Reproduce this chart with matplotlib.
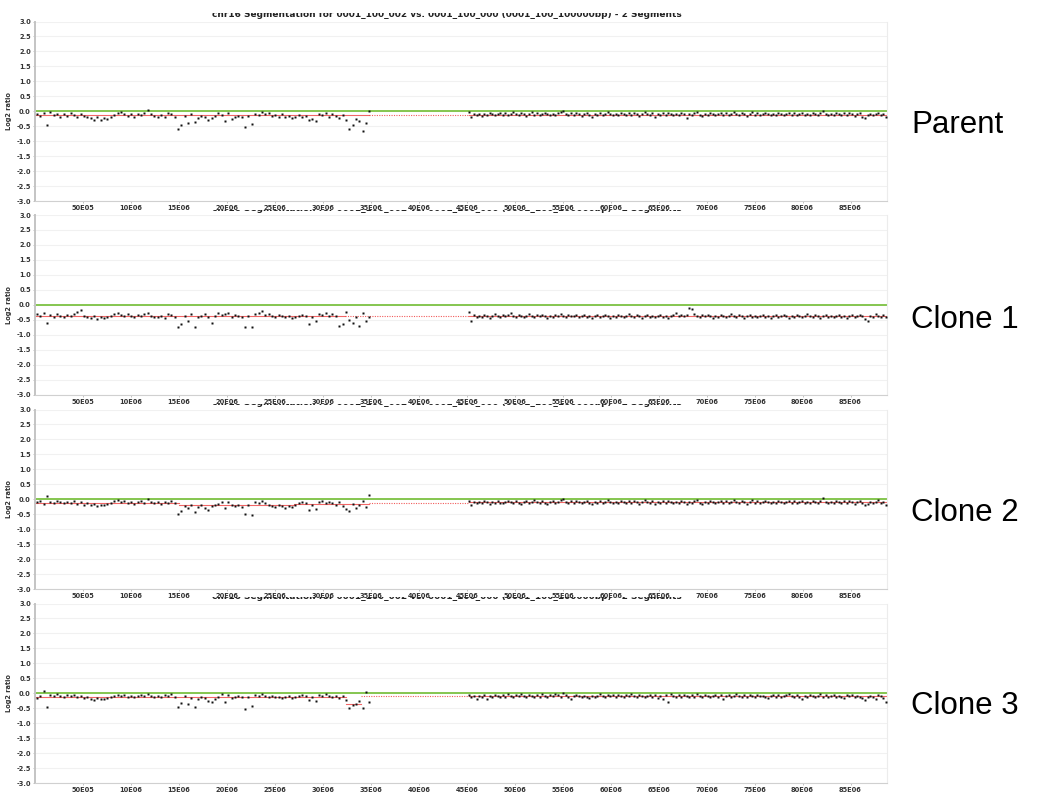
import numpy as np
import matplotlib
matplotlib.use("Agg")
import matplotlib.pyplot as plt
from matplotlib.transforms import Bbox, TransformedBbox

plt.rcParams['axes.unicode_minus'] = False

# ---------------- data ----------------
panel_names = ["Parent", "Clone 1", "Clone 2", "Clone 3"]
title_text = "chr16 Segmentation for 0001_100_002 vs. 0001_100_000 (0001_100_100000bp) - 2 Segments"

x_ticks = [5e6, 10e6, 15e6, 20e6, 25e6, 30e6, 35e6, 40e6, 45e6, 50e6, 55e6, 60e6,
           65e6, 70e6, 75e6, 80e6, 85e6]
x_tick_labels = ["50E05", "10E06", "15E06", "20E06", "25E06", "30E06", "35E06", "40E06",
                 "45E06", "50E06", "55E06", "60E06", "65E06", "70E06", "75E06", "80E06", "85E06"]
y_ticks = [3.0, 2.5, 2.0, 1.5, 1.0, 0.5, 0.0, -0.5, -1.0, -1.5, -2.0, -2.5, -3.0]

left_arm_range = (0.2e6, 34.85e6)    # probe span of p-arm
right_arm_range = (45.2e6, 88.7e6)   # probe span of q-arm
x_max = 88.8e6

parent_left = [
-0.10,-0.15,-0.05,-0.47,-0.02,-0.12,-0.08,-0.18,-0.10,-0.15,
-0.05,-0.12,-0.18,-0.08,-0.15,-0.20,-0.22,-0.30,-0.18,-0.28,
-0.22,-0.25,-0.18,-0.12,-0.05,-0.02,-0.08,-0.15,-0.10,-0.18,
-0.08,-0.12,-0.05,0.05,-0.10,-0.15,-0.18,-0.12,-0.20,-0.05,
-0.10,-0.18,-0.60,-0.45,-0.15,-0.38,-0.10,-0.35,-0.22,-0.15,
-0.18,-0.28,-0.22,-0.15,-0.05,-0.12,-0.33,-0.05,-0.25,-0.18,
-0.15,-0.20,-0.52,-0.15,-0.42,-0.08,-0.12,-0.03,-0.10,-0.05,
-0.15,-0.12,-0.18,-0.10,-0.20,-0.15,-0.22,-0.18,-0.12,-0.20,
-0.15,-0.30,-0.25,-0.32,-0.08,-0.12,-0.05,-0.18,-0.10,-0.15,
-0.22,-0.12,-0.30,-0.58,-0.45,-0.25,-0.32,-0.65,-0.38,0.02,
]
parent_right = [
-0.02,-0.20,-0.08,-0.12,-0.10,-0.15,-0.08,-0.12,-0.06,-0.10,
-0.14,-0.09,-0.05,-0.11,-0.07,-0.13,-0.10,-0.04,-0.09,-0.12,
-0.06,-0.10,-0.15,-0.08,-0.03,-0.11,-0.07,-0.13,-0.09,-0.05,
-0.10,-0.14,-0.08,-0.12,-0.06,-0.02,0.02,-0.09,-0.13,-0.07,
-0.11,-0.05,-0.09,-0.15,-0.10,-0.06,-0.12,-0.18,-0.08,-0.11,
-0.07,-0.13,-0.09,-0.04,-0.10,-0.14,-0.08,-0.12,-0.06,-0.10,
-0.13,-0.07,-0.11,-0.05,-0.09,-0.15,-0.10,-0.03,-0.08,-0.12,
-0.06,-0.20,-0.09,-0.13,-0.07,-0.11,-0.05,-0.10,-0.14,-0.08,
-0.12,-0.06,-0.10,-0.21,-0.09,-0.13,-0.07,-0.04,-0.11,-0.15,
-0.08,-0.12,-0.06,-0.10,-0.14,-0.09,-0.05,-0.11,-0.07,-0.13,
-0.10,-0.04,-0.09,-0.12,-0.06,-0.10,-0.15,-0.08,-0.03,-0.11,
-0.07,-0.13,-0.09,-0.05,-0.10,-0.14,-0.08,-0.12,-0.06,-0.10,
-0.14,-0.09,-0.05,-0.11,-0.07,-0.13,-0.10,-0.06,-0.12,-0.08,
-0.11,-0.05,-0.09,-0.13,-0.07,0.02,-0.10,-0.14,-0.08,-0.12,
-0.06,-0.10,-0.13,-0.07,-0.11,-0.05,-0.09,-0.15,-0.10,-0.06,
-0.18,-0.22,-0.12,-0.08,-0.14,-0.10,-0.06,-0.12,-0.09,-0.20,
]
clone1_left = [
-0.32,-0.38,-0.28,-0.60,-0.35,-0.40,-0.30,-0.36,-0.42,-0.34,
-0.38,-0.32,-0.25,-0.18,-0.36,-0.40,-0.44,-0.38,-0.46,-0.42,
-0.45,-0.40,-0.38,-0.32,-0.28,-0.34,-0.38,-0.30,-0.36,-0.40,
-0.34,-0.38,-0.30,-0.26,-0.36,-0.40,-0.42,-0.36,-0.44,-0.30,
-0.34,-0.40,-0.75,-0.65,-0.38,-0.55,-0.30,-0.75,-0.40,-0.36,
-0.32,-0.42,-0.60,-0.38,-0.28,-0.34,-0.30,-0.26,-0.40,-0.35,
-0.38,-0.42,-0.75,-0.36,-0.75,-0.32,-0.28,-0.20,-0.34,-0.30,
-0.36,-0.40,-0.34,-0.38,-0.42,-0.36,-0.44,-0.40,-0.38,-0.34,
-0.36,-0.65,-0.42,-0.55,-0.30,-0.34,-0.28,-0.36,-0.32,-0.38,
-0.70,-0.66,-0.25,-0.50,-0.60,-0.42,-0.70,-0.28,-0.55,-0.40,
]
clone1_right = [
-0.25,-0.55,-0.33,-0.40,-0.36,-0.42,-0.34,-0.38,-0.44,-0.36,
-0.31,-0.37,-0.41,-0.35,-0.39,-0.33,-0.29,-0.36,-0.40,-0.34,
-0.38,-0.42,-0.36,-0.32,-0.37,-0.41,-0.35,-0.39,-0.33,-0.37,
-0.43,-0.36,-0.40,-0.34,-0.38,-0.32,-0.36,-0.41,-0.35,-0.39,
-0.37,-0.33,-0.42,-0.38,-0.34,-0.40,-0.36,-0.44,-0.38,-0.35,
-0.41,-0.37,-0.33,-0.39,-0.43,-0.36,-0.40,-0.34,-0.38,-0.42,
-0.36,-0.32,-0.38,-0.41,-0.35,-0.39,-0.43,-0.37,-0.33,-0.40,
-0.36,-0.42,-0.38,-0.34,-0.40,-0.36,-0.44,-0.38,-0.34,-0.28,
-0.37,-0.33,-0.39,-0.35,-0.10,-0.15,-0.30,-0.37,-0.41,-0.35,
-0.39,-0.33,-0.37,-0.43,-0.36,-0.40,-0.34,-0.38,-0.42,-0.36,
-0.32,-0.38,-0.41,-0.35,-0.39,-0.43,-0.37,-0.33,-0.40,-0.36,
-0.42,-0.38,-0.34,-0.40,-0.36,-0.44,-0.38,-0.35,-0.41,-0.37,
-0.33,-0.39,-0.43,-0.36,-0.40,-0.34,-0.38,-0.42,-0.36,-0.32,
-0.38,-0.41,-0.35,-0.39,-0.43,-0.37,-0.33,-0.40,-0.36,-0.42,
-0.38,-0.34,-0.40,-0.36,-0.44,-0.38,-0.35,-0.41,-0.37,-0.33,
-0.39,-0.48,-0.55,-0.36,-0.40,-0.30,-0.38,-0.42,-0.34,-0.40,
]
clone2_left = [
-0.10,-0.05,-0.15,0.12,-0.08,-0.12,-0.05,-0.10,-0.14,-0.08,
-0.12,-0.06,-0.15,-0.10,-0.18,-0.12,-0.20,-0.16,-0.22,-0.18,
-0.20,-0.15,-0.12,-0.06,-0.02,-0.10,-0.05,-0.12,-0.08,-0.15,
-0.10,-0.06,-0.12,0.00,-0.08,-0.14,-0.10,-0.16,-0.08,-0.12,
-0.06,-0.14,-0.50,-0.40,-0.22,-0.30,-0.18,-0.42,-0.25,-0.20,
-0.28,-0.35,-0.22,-0.18,-0.15,-0.08,-0.30,-0.10,-0.18,-0.24,
-0.20,-0.26,-0.48,-0.18,-0.52,-0.10,-0.14,-0.06,-0.12,-0.18,
-0.22,-0.25,-0.20,-0.24,-0.28,-0.22,-0.26,-0.18,-0.12,-0.08,
-0.14,-0.35,-0.20,-0.32,-0.10,-0.05,-0.12,-0.08,-0.14,-0.18,
-0.10,-0.22,-0.32,-0.40,-0.15,-0.28,-0.20,-0.06,-0.25,0.15,
]
clone2_right = [
-0.06,-0.18,-0.10,-0.14,-0.08,-0.12,-0.05,-0.10,-0.15,-0.09,
-0.12,-0.07,-0.11,-0.14,-0.08,-0.05,-0.10,-0.13,-0.07,-0.11,
-0.15,-0.09,-0.06,-0.12,-0.08,-0.04,-0.10,-0.13,-0.07,-0.11,
-0.16,-0.09,-0.05,-0.12,-0.08,-0.03,0.00,-0.10,-0.14,-0.07,
-0.11,-0.05,-0.09,-0.13,-0.10,-0.06,-0.12,-0.15,-0.08,-0.11,
-0.07,-0.13,-0.09,-0.04,-0.10,-0.14,-0.08,-0.12,-0.06,-0.10,
-0.13,-0.07,-0.11,-0.05,-0.09,-0.15,-0.10,-0.03,-0.08,-0.12,
-0.06,-0.17,-0.09,-0.13,-0.07,-0.11,-0.05,-0.10,-0.14,-0.08,
-0.12,-0.06,-0.10,-0.16,-0.09,-0.13,-0.07,-0.04,-0.11,-0.15,
-0.08,-0.12,-0.06,-0.10,-0.14,-0.09,-0.05,-0.11,-0.07,-0.13,
-0.10,-0.04,-0.09,-0.12,-0.06,-0.10,-0.15,-0.08,-0.03,-0.11,
-0.07,-0.13,-0.09,-0.05,-0.10,-0.14,-0.08,-0.12,-0.06,-0.10,
-0.14,-0.09,-0.05,-0.11,-0.07,-0.13,-0.10,-0.06,-0.12,-0.08,
-0.11,-0.05,-0.09,-0.13,-0.07,0.03,-0.10,-0.14,-0.08,-0.12,
-0.06,-0.10,-0.13,-0.07,-0.11,-0.05,-0.09,-0.15,-0.10,-0.06,
-0.12,-0.20,-0.16,-0.08,-0.14,-0.10,-0.02,-0.12,-0.09,-0.18,
]
clone3_left = [
-0.15,-0.08,0.08,-0.45,-0.05,-0.10,-0.03,-0.08,-0.12,-0.06,
-0.10,-0.05,-0.12,-0.08,-0.15,-0.12,-0.18,-0.22,-0.15,-0.20,
-0.18,-0.16,-0.12,-0.08,-0.05,-0.10,-0.06,-0.12,-0.08,-0.14,
-0.10,-0.06,-0.10,-0.02,-0.08,-0.12,-0.10,-0.14,-0.06,-0.10,
-0.04,-0.12,-0.45,-0.32,-0.08,-0.35,-0.15,-0.45,-0.20,-0.12,
-0.16,-0.25,-0.30,-0.18,-0.12,-0.04,-0.30,-0.05,-0.15,-0.12,
-0.10,-0.14,-0.52,-0.12,-0.42,-0.06,-0.10,-0.04,-0.08,-0.12,
-0.10,-0.14,-0.12,-0.16,-0.14,-0.10,-0.15,-0.12,-0.08,-0.06,
-0.10,-0.22,-0.12,-0.25,-0.06,-0.10,-0.04,-0.08,-0.12,-0.10,
-0.15,-0.08,-0.22,-0.48,-0.38,-0.35,-0.25,-0.50,0.05,-0.30,
]
clone3_right = [
-0.05,-0.12,-0.08,-0.20,-0.10,-0.14,-0.06,-0.18,-0.09,-0.12,
-0.05,-0.10,-0.14,-0.07,-0.11,-0.04,-0.09,-0.13,-0.06,-0.10,
-0.03,-0.08,-0.12,-0.05,-0.09,-0.13,-0.07,-0.11,-0.04,-0.08,
-0.12,-0.06,-0.10,-0.02,-0.07,-0.11,0.01,-0.06,-0.12,-0.18,
-0.09,-0.05,-0.10,-0.14,-0.08,-0.12,-0.16,-0.10,-0.14,-0.08,
-0.04,-0.09,-0.13,-0.06,-0.10,-0.07,-0.11,-0.05,-0.09,-0.12,
-0.06,-0.10,-0.04,-0.08,-0.12,-0.06,-0.10,-0.14,-0.08,-0.05,
-0.11,-0.07,-0.15,-0.10,-0.20,-0.06,-0.28,-0.02,-0.09,-0.13,
-0.07,-0.11,-0.05,-0.09,-0.13,-0.07,-0.11,-0.04,-0.08,-0.12,
-0.06,-0.10,-0.14,-0.08,-0.05,-0.11,-0.07,-0.18,-0.10,-0.06,
-0.12,-0.08,-0.04,-0.10,-0.14,-0.07,-0.11,-0.05,-0.09,-0.13,
-0.06,-0.10,-0.08,-0.12,-0.16,-0.09,-0.05,-0.11,-0.07,-0.13,
-0.10,-0.06,-0.03,-0.09,-0.13,-0.07,-0.11,-0.18,-0.08,-0.12,
-0.06,-0.10,-0.14,-0.08,-0.04,-0.11,-0.07,-0.13,-0.09,-0.05,
-0.12,-0.08,-0.11,-0.15,-0.07,-0.10,-0.06,-0.12,-0.09,-0.13,
-0.16,-0.22,-0.14,-0.08,-0.12,-0.18,-0.06,-0.10,-0.15,-0.28,
]

# segment calls: (start, end, log2 value, solid?)
parent_segments = [(0, 34.85e6, -0.13, True), (34.85e6, 45.2e6, -0.13, False), (45.2e6, 88.8e6, -0.12, True)]
clone1_segments = [(0, 32.3e6, -0.37, True), (32.3e6, 45.2e6, -0.37, False), (45.2e6, 88.8e6, -0.37, True)]
clone2_segments = [(0, 15.0e6, -0.12, True), (15.0e6, 27.0e6, -0.19, True), (27.0e6, 34.85e6, -0.15, True),
                   (34.85e6, 45.2e6, -0.12, False), (45.2e6, 88.8e6, -0.10, True)]
clone3_segments = [(0, 32.4e6, -0.12, True), (32.4e6, 34.0e6, -0.35, True), (34.0e6, 45.2e6, -0.10, False),
                   (45.2e6, 88.8e6, -0.09, True)]

left_values = [parent_left, clone1_left, clone2_left, clone3_left]
right_values = [parent_right, clone1_right, clone2_right, clone3_right]
segments = [parent_segments, clone1_segments, clone2_segments, clone3_segments]

# ---------------- layout ----------------
W, H = 1043, 796
fig = plt.figure(figsize=(W / 100, H / 100), dpi=100)

ax_left_px, ax_right_px = 35, 887
panel_tops = [21.5, 215.0, 409.5, 603.5]
panel_h = 179.5
# (top of visible band, bottom of visible band, baseline) in pixels from top
title_bands = [(13.0, 18.5, 16.8), (209.5, 213.0, 211.2), (403.5, 407.0, 405.2), (597.0, 600.5, 598.7)]
label_y = [125, 320, 513, 706]

GREEN = "#7cc242"
RED = "#ee3333"
TXT = "#333333"
tick_font = dict(family="DejaVu Sans", weight="bold", size=4.8, color=TXT)

for i in range(4):
    top = panel_tops[i]
    rect = [ax_left_px / W, 1 - (top + panel_h) / H, (ax_right_px - ax_left_px) / W, panel_h / H]
    ax = fig.add_axes(rect)
    ax.set_xlim(0, x_max)
    ax.set_ylim(-3.0, 3.0)

    for y in y_ticks:
        ax.axhline(y, color="#f1f1f1", lw=0.8, zorder=0)

    ax.axhline(0.0, color=GREEN, lw=1.3, zorder=2)
    for (s, e, v, solid) in segments[i]:
        if solid:
            ax.plot([s, e], [v, v], color=RED, lw=0.8, alpha=0.75, zorder=2)
        else:
            ax.plot([s, e], [v, v], color=RED, lw=0.8, ls=(0, (1, 1.2)), alpha=0.8, zorder=2)

    lv = left_values[i]
    rv = right_values[i]
    xl = np.linspace(left_arm_range[0], left_arm_range[1], len(lv))
    xr = np.linspace(right_arm_range[0], right_arm_range[1], len(rv))
    ax.plot(xl, lv, ls="none", marker="s", ms=1.75, mec="none", mfc="#111111", zorder=3)
    ax.plot(xr, rv, ls="none", marker="s", ms=1.75, mec="none", mfc="#111111", zorder=3)

    ax.set_yticks(y_ticks)
    ax.set_yticklabels([f"{t:.1f}" for t in y_ticks], **tick_font)
    ax.set_xticks(x_ticks)
    ax.set_xticklabels(x_tick_labels, **tick_font)
    ax.tick_params(axis="both", length=1.5, width=0.5, color="#aaaaaa", pad=1.5)
    ax.set_ylabel("Log2 ratio", fontdict=dict(family="DejaVu Sans", weight="bold", size=4.8, color=TXT),
                  labelpad=3)

    ax.spines["top"].set_visible(False)
    ax.spines["left"].set_color("#c4c4c4")
    ax.spines["left"].set_linewidth(1.4)
    ax.spines["bottom"].set_color("#d0d0d0")
    ax.spines["bottom"].set_linewidth(0.8)
    ax.spines["right"].set_color("#ececec")
    ax.spines["right"].set_linewidth(0.8)

    # partially visible (cropped) panel title
    b0, b1, base = title_bands[i]
    t = fig.text(447 / W, 1 - base / H, title_text, ha="center", va="baseline",
                 fontsize=6.5, fontweight="bold", color="#222222", family="DejaVu Sans")
    clip = TransformedBbox(Bbox.from_extents(150 / W, 1 - b1 / H, 750 / W, 1 - b0 / H), fig.transFigure)
    t.set_clip_box(clip)
    t.set_clip_on(True)

    fig.text(911 / W, 1 - label_y[i] / H, panel_names[i], ha="left", va="center",
             fontsize=22.5, family="Liberation Sans", color="black")

fig.savefig("out.png", dpi=100)
